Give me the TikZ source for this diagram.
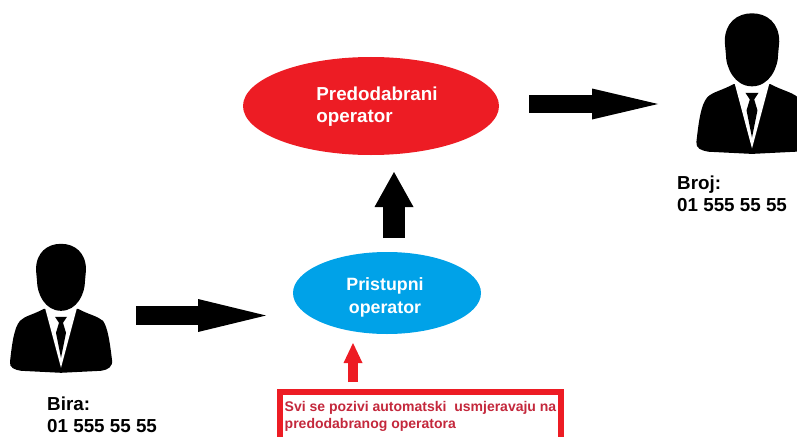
\documentclass[tikz,border=0pt]{standalone}
\usepackage{fontspec}
\setmainfont{Liberation Sans}
\usepackage{pgf,tikz}
\usetikzlibrary{calc}
\usetikzlibrary{arrows.meta}
\usetikzlibrary{shapes.geometric}
\definecolor{crveni}{HTML}{ED1C24}
\definecolor{plavi}{HTML}{00A2E8}
\definecolor{natpis}{HTML}{C4283C}
\newcommand{\veliki}{\fontsize{18.8}{22}\selectfont\bfseries}
\newcommand{\srednji}{\fontsize{17.8}{23}\selectfont\bfseries}
\newcommand{\mali}{\fontsize{14}{17}\selectfont\bfseries}
\tikzset{
  person/.pic={
    % shoulders
    \fill[black] (-17,65) .. controls (-28,71) and (-36,72) .. (-41,77) .. controls (-47,84) and (-49,100) .. (-51,118) .. controls (-52,124) and (-46,126) .. (-40,127) -- (0,129) -- (40,127) .. controls (47,126) and (52,123) .. (51,116) .. controls (49,100) and (47,84) .. (42,77) .. controls (36,72) and (28,71) .. (17,65) -- cycle;
    % shirt
    \fill[white] (-16,64) -- (0,124) -- (16,64) -- cycle;
    % head
    \fill[black] (0,0) .. controls (14,0) and (25,9) .. (25,26) -- (24,37) .. controls (24,50) and (16,67) .. (0,67) .. controls (-16,67) and (-24,50) .. (-24,37) -- (-25,26) .. controls (-25,9) and (-14,0) .. (0,0) -- cycle;
    % tie
    \fill[black] (-6,73) -- (6,73) -- (2,79) -- (5,89) -- (0,114) -- (-5,89) -- (-2,79) -- cycle;
  },
  personbox/.style={draw=none,fill=none,inner sep=0pt,minimum width=101pt},
  operatorbox/.style={ellipse,inner sep=0pt,draw=none},
  plaintext/.style={draw=none,fill=none,align=left,inner sep=0pt},
  fatarrow/.style={line width=#1},
}

\begin{document}
\begin{tikzpicture}[x=1pt,y=-1pt]
  \useasboundingbox (0,0) rectangle (797,436);
  \clip (0,0) rectangle (797,436);

  % Caller
  \node[personbox,minimum height=129pt] (bira) at (61,308.5) {};
  \pic at (bira.north) {person};
  \node[plaintext,font=\veliki,anchor=north west] (biratext) at (47,397) {Bira:\\01 555 55 55};

  % Called party
  \node[personbox,minimum height=141pt] (broj) at (752,84) {};
  \pic[scale=1.09] at (broj.north) {person};
  \node[plaintext,font=\veliki,anchor=north west] (brojtext) at (677,176) {Broj:\\01 555 55 55};

  % Operators
  \node[operatorbox,fill=crveni,minimum width=256pt,minimum height=98pt] (predodabrani) at (371,106) {};
  \node[plaintext,font=\veliki,text=white] (predodabranitext) at ($(predodabrani)+(6,1)$) {Predodabrani\\operator};
  \node[operatorbox,fill=plavi,minimum width=188pt,minimum height=82pt] (pristupni) at (387,293) {};
  \node[plaintext,font=\srednji,text=white,align=center] (pristupnitext) at ($(pristupni)+(-2,4)$) {Pristupni\\operator};

  % Note
  \node[draw=crveni,line width=5.5pt,fill=white,minimum height=49pt,minimum width=281pt,inner sep=0pt,align=left,text=natpis,font=\mali] (napomena) at (420.5,416.5) {Svi se pozivi automatski\ \ usmjeravaju na\\predodabranog operatora};

  % Arrows
  \draw[fatarrow=19pt,-{Triangle[length=68pt,width=33pt,line width=0pt]}] ($(bira)+(75,7)$) -- ($(pristupni)+(-121,22.5)$);
  \draw[fatarrow=22pt,-{Triangle[length=35pt,width=39pt,line width=0pt]}] ($(pristupni)+(7,-55)$) -- ($(predodabrani)+(23,66)$);
  \draw[fatarrow=18pt,-{Triangle[length=66pt,width=31pt,line width=0pt]}] ($(predodabrani)+(158,-2)$) -- ($(broj)+(-94,20)$);
  \draw[fatarrow=10pt,crveni,-{Triangle[length=20pt,width=19pt,line width=0pt]}] ($(napomena)+(-67.5,-34.5)$) -- ($(pristupni)+(-34,50)$);
\end{tikzpicture}
\end{document}
